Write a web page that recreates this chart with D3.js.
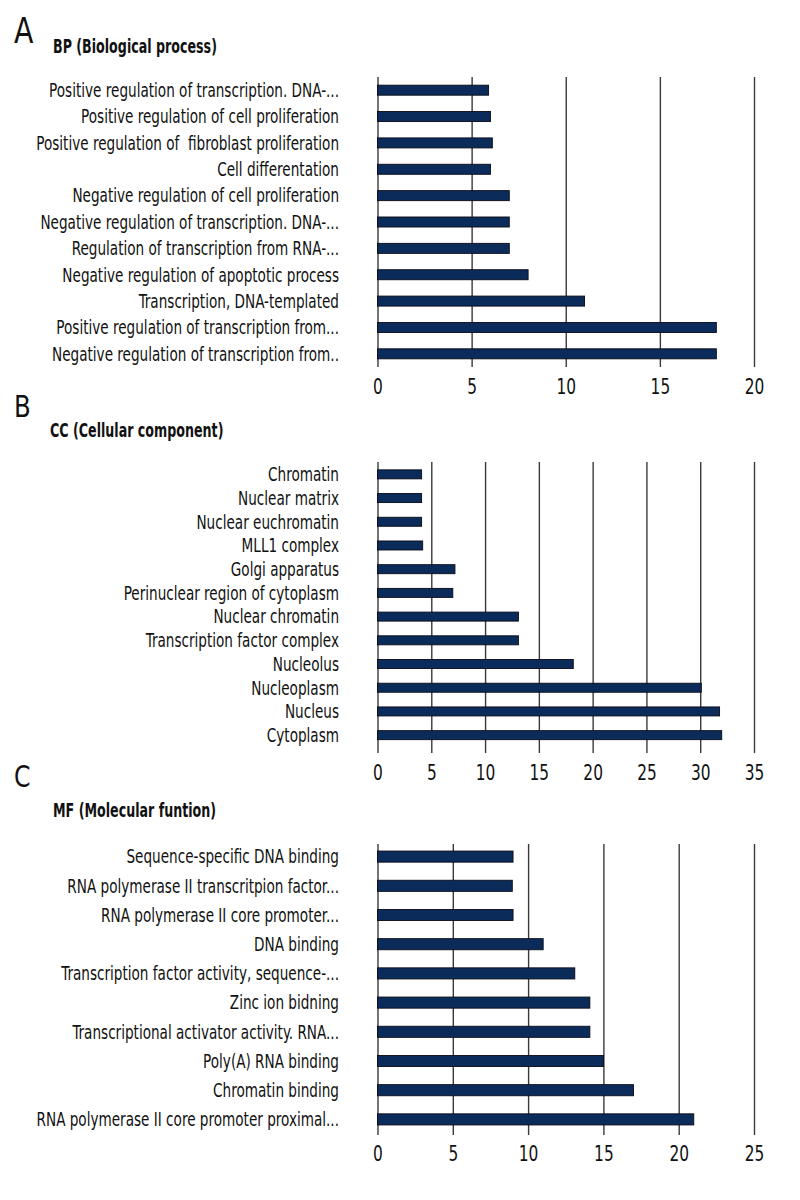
<!DOCTYPE html>
<html>
<head>
<meta charset="utf-8">
<script src="https://cdn.jsdelivr.net/npm/d3@7"></script>
<style>
  html, body { margin: 0; padding: 0; background: #fff; }
  svg { display: block; }
  text { font-family: "Liberation Sans Narrow", "DejaVu Sans Condensed", "Liberation Sans", sans-serif; fill: #111; white-space: pre; }
</style>
</head>
<body>
<svg id="chart" width="800" height="1200"></svg>
<script>
// ---------- DATA ----------
const bpCategories = [
  "Positive regulation of transcription. DNA-...",
  "Positive regulation of cell proliferation",
  "Positive regulation of  fibroblast proliferation",
  "Cell differentation",
  "Negative regulation of cell proliferation",
  "Negative regulation of transcription. DNA-...",
  "Regulation of transcription from RNA-...",
  "Negative regulation of apoptotic process",
  "Transcription, DNA-templated",
  "Positive regulation of transcription from...",
  "Negative regulation of transcription from.."
];
const bpValues = [5.9, 6, 6.1, 6, 7, 7, 7, 8, 11, 18, 18];
const bpTicks = [0, 5, 10, 15, 20];

const ccCategories = [
  "Chromatin",
  "Nuclear matrix",
  "Nuclear euchromatin",
  "MLL1 complex",
  "Golgi apparatus",
  "Perinuclear region of cytoplasm",
  "Nuclear chromatin",
  "Transcription factor complex",
  "Nucleolus",
  "Nucleoplasm",
  "Nucleus",
  "Cytoplasm"
];
const ccValues = [4.1, 4.1, 4.1, 4.2, 7.2, 7, 13.1, 13.1, 18.2, 30.1, 31.8, 32];
const ccTicks = [0, 5, 10, 15, 20, 25, 30, 35];

const mfCategories = [
  "Sequence-specific DNA binding",
  "RNA polymerase II transcritpion factor...",
  "RNA polymerase II core promoter...",
  "DNA binding",
  "Transcription factor activity, sequence-...",
  "Zinc ion bidning",
  "Transcriptional activator activity. RNA...",
  "Poly(A) RNA binding",
  "Chromatin binding",
  "RNA polymerase II core promoter proximal..."
];
const mfValues = [9, 8.95, 9, 11, 13.1, 14.1, 14.1, 15, 17, 21];
const mfTicks = [0, 5, 10, 15, 20, 25];

const panelLetters = ["A", "B", "C"];
const panelTitles = ["BP (Biological process)", "CC (Cellular component)", "MF (Molecular funtion)"];

// ---------- LAYOUT ----------
const layout = [
  { letterY: 43, letterSize: 36, titleX: 53, titleY: 53, band: [77, 367], grid: [77, 367], tickPad: 12 },
  { letterY: 417, letterSize: 31, titleX: 50, titleY: 437, band: [462.5, 747], grid: [462, 753], tickPad: 12 },
  { letterY: 787, letterSize: 30, titleX: 53, titleY: 817, band: [842, 1134], grid: [844, 1135], tickPad: 11 }
];
const panels = [
  { cats: bpCategories, vals: bpValues, ticks: bpTicks },
  { cats: ccCategories, vals: ccValues, ticks: ccTicks },
  { cats: mfCategories, vals: mfValues, ticks: mfTicks }
];

const svg = d3.select("#chart");
const X0 = 377.5, X1 = 754, LABEL_X = 339;
const labelSize = 19.5, tickSize = 20.5, titleSize = 19.5;

// measure compression so the condensed look matches
const probe = svg.append("text").style("font-size", labelSize + "px").text(bpCategories[0]);
const labelScale = 290 / probe.node().getComputedTextLength();
probe.remove();
const probeT = svg.append("text").style("font-size", titleSize + "px").style("font-weight", "bold").text(panelTitles[0]);
const titleScale = 164 / probeT.node().getComputedTextLength();
probeT.remove();

panels.forEach((p, i) => {
  const L = layout[i];
  const g = svg.append("g");
  const x = d3.scaleLinear().domain([0, d3.max(p.ticks)]).range([X0, X1]);
  const y = d3.scaleBand().domain(p.cats).range(L.band).paddingInner(0.62).paddingOuter(0.31);

  // panel letter
  g.append("text")
    .attr("transform", `translate(14,${L.letterY}) scale(${Math.min(1, labelScale + 0.1)},1)`)
    .style("font-size", L.letterSize + "px")
    .text(panelLetters[i]);

  // title
  g.append("text")
    .attr("transform", `translate(${L.titleX},${L.titleY}) scale(${titleScale},1)`)
    .style("font-size", titleSize + "px")
    .style("font-weight", "bold")
    .text(panelTitles[i]);

  // gridlines + tick labels via axis
  const axis = d3.axisBottom(x).tickValues(p.ticks).tickSize(-(L.grid[1] - L.grid[0])).tickPadding(L.tickPad).tickFormat(d3.format("d"));
  const ag = g.append("g").attr("transform", `translate(0,${L.grid[1]})`).call(axis);
  ag.select(".domain").remove();
  ag.selectAll(".tick line").attr("stroke", "#3a3a3a").attr("stroke-width", 1.4);
  ag.selectAll(".tick text")
    .attr("fill", "#111")
    .style("font-size", tickSize + "px")
    .style("font-family", "\"Liberation Sans Narrow\", \"DejaVu Sans Condensed\", \"Liberation Sans\", sans-serif")
    .attr("transform", `scale(${labelScale + 0.06},1)`);

  // bars
  g.selectAll("rect.bar").data(p.cats).join("rect")
    .attr("class", "bar")
    .attr("x", x(0))
    .attr("y", d => y(d))
    .attr("width", (d, j) => x(p.vals[j]) - x(0))
    .attr("height", y.bandwidth())
    .attr("fill", "#0b2c5a")
    .attr("stroke", "#0a0a14")
    .attr("stroke-width", 0.9);

  // category labels
  g.selectAll("text.cat").data(p.cats).join("text")
    .attr("class", "cat")
    .attr("transform", d => `translate(${LABEL_X},${y(d) + y.bandwidth() / 2}) scale(${labelScale},1)`)
    .attr("text-anchor", "end")
    .attr("dy", "0.35em")
    .style("font-size", labelSize + "px")
    .text(d => d);
});
</script>
</body>
</html>
